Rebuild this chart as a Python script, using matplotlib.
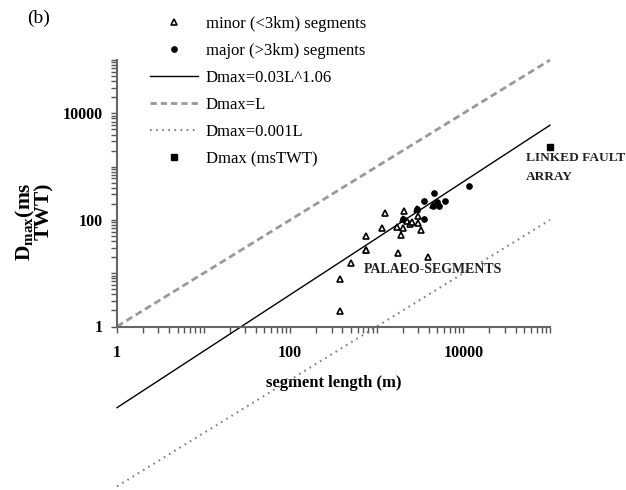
import numpy as np
import matplotlib
matplotlib.use("Agg")
import matplotlib.pyplot as plt
from matplotlib.lines import Line2D
from matplotlib.ticker import FixedLocator, NullFormatter

plt.rcParams['font.family'] = ['Liberation Serif', 'DejaVu Serif']
plt.rcParams['mathtext.fontset'] = 'custom'
plt.rcParams['mathtext.rm'] = 'Liberation Serif'
plt.rcParams['mathtext.bf'] = 'Liberation Serif:bold'
plt.rcParams['lines.scale_dashes'] = False

# ---- data ----
minor_L = [376, 376, 500, 745, 745, 745, 1140, 1244, 1742, 1698, 1903, 2023,
           2078, 2023, 2215, 2417, 2530, 2967, 3015, 2930, 3238, 3935, 4490]
minor_D = [1.95, 7.8, 15.3, 27.2, 27.8, 49.9, 71.4, 133, 23.6, 74.5, 52.1, 71.4,
           149, 102.6, 95.3, 82.7, 90.2, 118, 86.3, 158, 64.6, 19.9, 190]
major_L = [3508, 4613, 2930, 3508, 2023, 4918, 4490, 5188, 6131, 11610]
major_D = [229, 324, 158, 102.6, 103, 220, 182, 182, 226, 433]
linked_L = [100000]
linked_D = [2300]
line_L = [1, 100000]

fit_D = [0.03 * l ** 1.06 for l in line_L]
one_D = [l for l in line_L]
milli_D = [0.001 * l for l in line_L]

W, H = 626, 490
fig = plt.figure(figsize=(W / 100, H / 100), dpi=100)
ax = fig.add_axes([117 / W, 1 - 326.5 / H, (550 - 117) / W, (326.5 - 60) / H])
ax.set_xscale('log')
ax.set_yscale('log')
ax.set_xlim(1, 1e5)
ax.set_ylim(1, 1e5)

ax.plot(line_L, fit_D, color='black', lw=1.0, clip_on=False, zorder=2)
ax.plot(line_L, one_D, color='#999999', lw=2.0, dashes=(5, 2.9), clip_on=False, zorder=2)
ax.plot(line_L, milli_D, color='#808080', lw=1.5, dashes=(1.2, 3.2), clip_on=False, zorder=2)
ax.plot(minor_L, minor_D, ls='none', marker='^', ms=4.6, mfc='white', mec='black',
        mew=1.2, clip_on=False, zorder=3)
ax.plot(major_L, major_D, ls='none', marker='o', ms=3.8, mfc='black', mec='black',
        clip_on=False, zorder=3)
ax.plot(linked_L, linked_D, ls='none', marker='s', ms=5, mfc='black', mec='black',
        clip_on=False, zorder=3)

for s in ['top', 'right']:
    ax.spines[s].set_visible(False)
for s in ['left', 'bottom']:
    ax.spines[s].set_color('#666666')
    ax.spines[s].set_linewidth(1.5)

ticks = [m * 10 ** e for e in range(0, 5) for m in range(1, 10)] + [1e5]
for axis in (ax.xaxis, ax.yaxis):
    axis.set_major_locator(FixedLocator([1, 100, 10000]))
    axis.set_minor_locator(FixedLocator(ticks))
    axis.set_minor_formatter(NullFormatter())
ax.set_xticklabels(['1', '100', '10000'])
ax.set_yticklabels(['1', '100', '10000'])
ax.tick_params(which='both', direction='out', length=4.5, width=1.0, color='#555555')
ax.tick_params(axis='x', which='major', pad=9, labelsize=11.5)
ax.tick_params(axis='y', which='major', pad=6, labelsize=11.5)
for lab in ax.get_xticklabels() + ax.get_yticklabels():
    lab.set_fontweight('bold')

ax.set_xlabel('segment length (m)', fontsize=12, fontweight='bold', labelpad=10)

fig.text(34 / W, 1 - 182 / H, r'$\mathbf{D}_{\mathbf{max}}$(ms' + '\nTWT)', rotation=90,
         ha='center', va='top', multialignment='right', linespacing=0.8,
         fontsize=15.5, fontweight='bold')

fig.text(27 / W, 1 - 18 / H, '(b)', ha='left', va='center', fontsize=14)

ax.text(711, 11.5, 'PALAEO-SEGMENTS', ha='left', va='center', fontsize=10,
        fontweight='bold', color='#222222')
ax.text(52800, 1449, 'LINKED FAULT', ha='left', va='center', fontsize=9.6,
        fontweight='bold', color='#222222', clip_on=False)
ax.text(52800, 638, 'ARRAY', ha='left', va='center', fontsize=9.6,
        fontweight='bold', color='#222222', clip_on=False)

handles = [
    Line2D([], [], ls='none', marker='^', ms=4.6, mfc='white', mec='black', mew=1.2),
    Line2D([], [], ls='none', marker='o', ms=3.8, mfc='black', mec='black'),
    Line2D([], [], color='black', lw=1.0),
    Line2D([], [], color='#999999', lw=2.0, dashes=(4.5, 2.9)),
    Line2D([], [], color='#808080', lw=1.5, dashes=(1.2, 3.2)),
    Line2D([], [], ls='none', marker='s', ms=5, mfc='black', mec='black'),
]
labels = ['minor (<3km) segments', 'major (>3km) segments', 'Dmax=0.03L^1.06',
          'Dmax=L', 'Dmax=0.001L', 'Dmax (msTWT)']
fig.legend(handles, labels, loc='upper left', bbox_to_anchor=(150 / W, 1 - 16 / H),
           frameon=False, fontsize=12, handlelength=2.9, handletextpad=0.45,
           labelspacing=0.66, borderpad=0, borderaxespad=0)

fig.savefig('out.png', dpi=100)
